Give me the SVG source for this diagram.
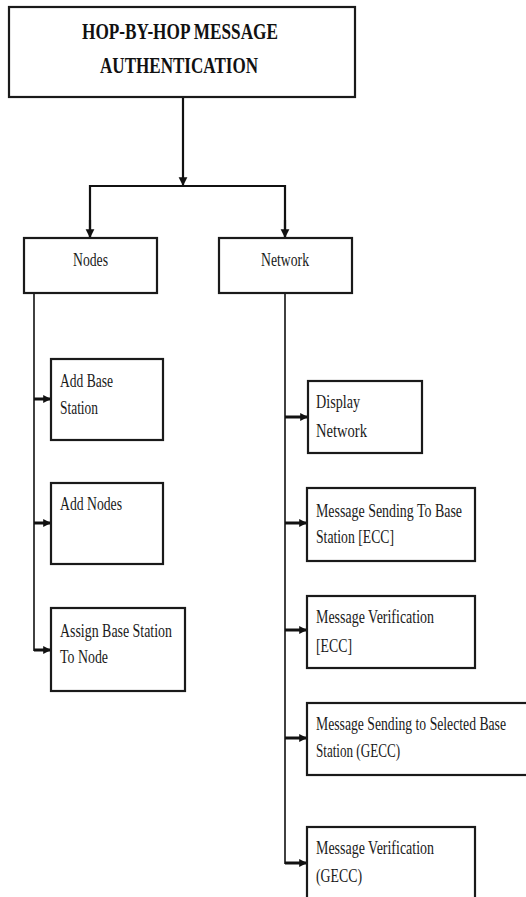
<svg xmlns="http://www.w3.org/2000/svg" width="526" height="897" viewBox="0 0 526 897">
<style>
.box{fill:#fff;stroke:#1a1a1a;stroke-width:2.2}
.t{font-family:"Liberation Serif","Times New Roman",serif;font-size:19px;fill:#1a1a1a}
.h{font-family:"Liberation Serif","Times New Roman",serif;font-size:24px;font-weight:bold;fill:#111}
.c{fill:none;stroke:#111;stroke-width:2.2}
.s{fill:none;stroke:#111;stroke-width:1.6}
.k{fill:none;stroke:#111;stroke-width:3}
</style>
<defs>
<marker id="ad" viewBox="0 0 10 10" refX="10" refY="5" markerWidth="4" markerHeight="4.5" orient="auto" markerUnits="strokeWidth">
<path d="M0,0 L10,5 L0,10 z" fill="#111"/>
</marker>
<marker id="as" viewBox="0 0 10 10" refX="10" refY="5" markerWidth="2.6" markerHeight="2.8" orient="auto" markerUnits="strokeWidth">
<path d="M0,0 L10,5 L0,10 z" fill="#111"/>
</marker>
</defs>
<rect width="526" height="897" fill="#fff"/>
<g id="connectors">
<line class="c" x1="183" y1="97" x2="183" y2="186" marker-end="url(#ad)"/>
<polyline class="c" points="90,238 90,186 285,186 285,238"/>
<line class="c" x1="90" y1="220" x2="90" y2="238" marker-end="url(#ad)"/>
<line class="c" x1="285" y1="220" x2="285" y2="238" marker-end="url(#ad)"/>
<line class="s" x1="34" y1="293" x2="34" y2="651"/>
<line class="k" x1="34" y1="399" x2="51" y2="399" marker-end="url(#as)"/>
<line class="k" x1="34" y1="523" x2="51" y2="523" marker-end="url(#as)"/>
<line class="k" x1="34" y1="650" x2="51" y2="650" marker-end="url(#as)"/>
<line class="s" x1="285" y1="293" x2="285" y2="864"/>
<line class="k" x1="285" y1="417" x2="308" y2="417" marker-end="url(#as)"/>
<line class="k" x1="285" y1="523" x2="307" y2="523" marker-end="url(#as)"/>
<line class="k" x1="285" y1="630" x2="307" y2="630" marker-end="url(#as)"/>
<line class="k" x1="285" y1="738" x2="307" y2="738" marker-end="url(#as)"/>
<line class="k" x1="285" y1="863" x2="307" y2="863" marker-end="url(#as)"/>
</g>
<g id="root">
<rect class="box" x="9" y="7" width="346" height="90"/>
<text class="h" x="82" y="39" textLength="196" lengthAdjust="spacingAndGlyphs">HOP-BY-HOP MESSAGE</text>
<text class="h" x="100" y="73" textLength="158" lengthAdjust="spacingAndGlyphs">AUTHENTICATION</text>
</g>
<g id="nodes">
<rect class="box" x="24" y="238" width="133" height="55"/>
<text class="t" x="73" y="266" textLength="35" lengthAdjust="spacingAndGlyphs">Nodes</text>
</g>
<g id="network">
<rect class="box" x="219" y="238" width="133" height="55"/>
<text class="t" x="261" y="266" textLength="48" lengthAdjust="spacingAndGlyphs">Network</text>
</g>
<g id="add-base-station">
<rect class="box" x="51" y="359" width="112" height="81"/>
<text class="t" x="60" y="387" textLength="53" lengthAdjust="spacingAndGlyphs">Add Base</text>
<text class="t" x="60" y="414" textLength="38" lengthAdjust="spacingAndGlyphs">Station</text>
</g>
<g id="add-nodes">
<rect class="box" x="51" y="483" width="112" height="81"/>
<text class="t" x="60" y="510" textLength="62" lengthAdjust="spacingAndGlyphs">Add Nodes</text>
</g>
<g id="assign-base-station">
<rect class="box" x="51" y="608" width="134" height="83"/>
<text class="t" x="60" y="637" textLength="112" lengthAdjust="spacingAndGlyphs">Assign Base Station</text>
<text class="t" x="60" y="663" textLength="48" lengthAdjust="spacingAndGlyphs">To Node</text>
</g>
<g id="display-network">
<rect class="box" x="308" y="381" width="114" height="72"/>
<text class="t" x="316" y="408" textLength="44" lengthAdjust="spacingAndGlyphs">Display</text>
<text class="t" x="316" y="437" textLength="51" lengthAdjust="spacingAndGlyphs">Network</text>
</g>
<g id="msg-send-ecc">
<rect class="box" x="307" y="488" width="168" height="73"/>
<text class="t" x="316" y="517" textLength="146" lengthAdjust="spacingAndGlyphs">Message Sending To Base</text>
<text class="t" x="316" y="543" textLength="78" lengthAdjust="spacingAndGlyphs">Station [ECC]</text>
</g>
<g id="msg-verify-ecc">
<rect class="box" x="307" y="596" width="168" height="72"/>
<text class="t" x="316" y="623" textLength="118" lengthAdjust="spacingAndGlyphs">Message Verification</text>
<text class="t" x="316" y="652" textLength="36" lengthAdjust="spacingAndGlyphs">[ECC]</text>
</g>
<g id="msg-send-gecc">
<rect class="box" x="307" y="703" width="230" height="72"/>
<text class="t" x="316" y="730" textLength="190" lengthAdjust="spacingAndGlyphs">Message Sending to Selected Base</text>
<text class="t" x="316" y="757" textLength="84" lengthAdjust="spacingAndGlyphs">Station (GECC)</text>
</g>
<g id="msg-verify-gecc">
<rect class="box" x="307" y="827" width="168" height="90"/>
<text class="t" x="316" y="854" textLength="118" lengthAdjust="spacingAndGlyphs">Message Verification</text>
<text class="t" x="316" y="882" textLength="46" lengthAdjust="spacingAndGlyphs">(GECC)</text>
</g>
</svg>
